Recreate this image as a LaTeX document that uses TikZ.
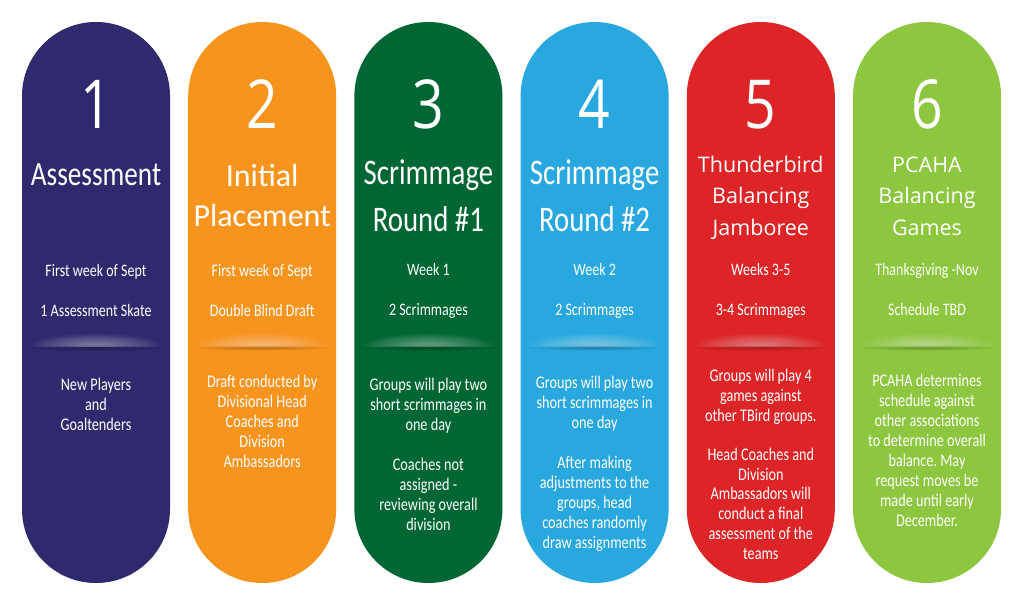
\documentclass[tikz,border=0pt]{standalone}
\usepackage{fontspec}
\setmainfont{Carlito}
\newfontfamily\condfont[FakeStretch=0.8]{Carlito}
\newfontfamily\osansfont{Open Sans}
\newfontfamily\numfont[FakeStretch=0.82]{Open Sans}
\def\numsize{67.5}
\frenchspacing
\definecolor{cnavy}{HTML}{2E2A6D}
\definecolor{corange}{HTML}{F7941E}
\definecolor{cgreen}{HTML}{006633}
\definecolor{cblue}{HTML}{29A8E0}
\definecolor{cred}{HTML}{DD2527}
\definecolor{clime}{HTML}{8DC63F}
\tikzset{
  pill/.style={rectangle, minimum width=148pt, minimum height=561pt, rounded corners=73.9pt, inner sep=0pt, draw=none},
  num/.style={text=white, font=\numfont\fontsize{\numsize}{\numsize}\selectfont, anchor=base, inner sep=0pt},
  ttlA/.style={text=white, font=\condfont\fontsize{34}{40}\selectfont, align=center, anchor=base, inner sep=0pt},
  ttlB/.style={text=white, font=\fontsize{32}{40}\selectfont, align=center, anchor=base, inner sep=0pt},
  ttlC/.style={text=white, font=\condfont\fontsize{36}{47}\selectfont, align=center, anchor=base, inner sep=0pt},
  ttlD/.style={text=white, font=\osansfont\fontsize{21.5}{31.3}\selectfont, align=center, anchor=base, inner sep=0pt},
  subt/.style={text=white, font=\condfont\fontsize{17.5}{40}\selectfont, align=center, anchor=base, inner sep=0pt},
  body/.style={text=white, font=\condfont\fontsize{17.8}{20}\selectfont, align=center, anchor=base, inner sep=0pt},
}
\newcommand{\glowat}[1]{%
  \begin{scope}
    \clip (#1-74,320) rectangle (#1+74,346.5);
    \foreach \k in {1.0,0.95,...,0.1}
      \fill[white, opacity=0.028] (#1,346.5) ellipse ({66*\k} and {13*\k});
  \end{scope}
  \foreach \k in {1.0,0.9,...,0.2}
    \fill[black, opacity=0.025] (#1,348) ellipse ({68*\k} and {2.8*\k});
}
\begin{document}
\begin{tikzpicture}[x=1pt,y=-1pt]
\useasboundingbox (0,0) rectangle (1024,605);
\fill[white] (0,0) rectangle (1024,605);

% pills
\node[pill, fill=cnavy]   (p1) at (96,302.5)    {};
\node[pill, fill=corange] (p2) at (262.2,302.5) {};
\node[pill, fill=cgreen]  (p3) at (428.4,302.5) {};
\node[pill, fill=cblue]   (p4) at (594.6,302.5) {};
\node[pill, fill=cred]    (p5) at (760.8,302.5) {};
\node[pill, fill=clime]   (p6) at (927,302.5)   {};

% glows
\glowat{96}
\glowat{262.2}
\glowat{428.4}
\glowat{594.6}
\glowat{760.8}
\glowat{927}

% numbers
\node[num] (n1) at (96,128)    {1};
\node[num] (n2) at (262.2,128) {2};
\node[num] (n3) at (428.4,128) {3};
\node[num] (n4) at (594.6,128) {4};
\node[num] (n5) at (760.8,128) {5};
\node[num] (n6) at (927,128)   {6};

% titles (anchor = baseline of last line)
\node[ttlA] (t1) at (96,185)    {Assessment};
\node[ttlB] (t2) at (262.2,226.7) {Initial\\Placement};
\node[ttlC] (t3) at (428.4,231.7) {Scrimmage\\Round \#1};
\node[ttlC] (t4) at (594.6,231.7) {Scrimmage\\Round \#2};
\node[ttlD] (t5) at (760.8,235) {Thunderbird\\Balancing\\Jamboree};
\node[ttlD] (t6) at (927,235)   {PCAHA\\Balancing\\Games};

% subtitles
\node[subt] (s1) at (96,316)    {First week of Sept\\1 Assessment Skate};
\node[subt] (s2) at (262.2,316) {First week of Sept\\Double Blind Draft};
\node[subt] (s3) at (428.4,315) {Week 1\\2 Scrimmages};
\node[subt] (s4) at (594.6,315) {Week 2\\2 Scrimmages};
\node[subt] (s5) at (760.8,315) {Weeks 3-5\\3-4 Scrimmages};
\node[subt] (s6) at (927,315)   {Thanksgiving -Nov\\Schedule TBD};

% body texts
\node[body] (b1) at (96,430) {New Players\\and\\Goaltenders};
\node[body] (b2) at (262.2,467) {Draft conducted by\\Divisional Head\\Coaches and\\Division\\Ambassadors};
\node[body] (b3) at (428.4,530) {Groups will play two\\short scrimmages in\\one day\\[20pt]Coaches not\\assigned -\\reviewing overall\\division};
\node[body] (b4) at (594.6,548) {Groups will play two\\short scrimmages in\\one day\\[20pt]After making\\adjustments to the\\groups, head\\coaches randomly\\draw assignments};
\node[body, font=\condfont\fontsize{17.8}{19.7}\selectfont] (b5) at (760.8,559) {Groups will play 4\\games against\\other TBird groups.\\[19.7pt]Head Coaches and\\Division\\Ambassadors will\\conduct a final\\assessment of the\\teams};
\node[body] (b6) at (927,526) {PCAHA determines\\schedule against\\other associations\\to determine overall\\balance. May\\request moves be\\made until early\\December.};
\end{tikzpicture}
\end{document}
